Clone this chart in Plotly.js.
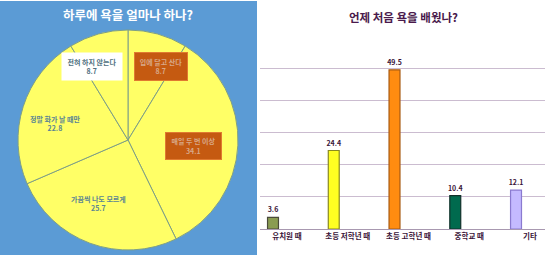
<!DOCTYPE html>
<html><head><meta charset="utf-8">
<script src="https://cdn.plot.ly/plotly-3.0.1.min.js"></script>
<style>html,body{margin:0;padding:0;background:#fff}#c{width:548px;height:259px}</style>
</head><body><div id="c"></div>
<script>
// Left: 하루에 욕을 얼마나 하나?
const pieLabels = ["입에 달고 산다", "매일 두 번 이상", "가끔씩 나도 모르게", "정말 화가 날 때만", "전혀 하지 않는다"];
const pieValues = [8.7, 34.1, 25.7, 22.8, 8.7];
// Right: 언제 처음 욕을 배웠나?
const barCats = ["유치원 때", "초등 저학년 때", "초등 고학년 때", "중학교 때", "기타"];
const barValues = [3.6, 24.4, 49.5, 10.4, 12.1];
const barColors = ["#8a9c52", "#ffff22", "#ff8c10", "#006a4e", "#c4baff"];
const barLines = ["#4a4a3a", "#8a8a20", "#a85a10", "#10302a", "#8a7ad0"];

const W = 548, H = 259;
const px = x => x / W, py = y => 1 - y / H;
const F = "Noto Sans CJK KR";

const pie = {
  type: "pie", labels: pieLabels, values: pieValues, sort: false,
  direction: "clockwise", rotation: 0, textinfo: "none", hoverinfo: "label+value",
  marker: {colors: pieValues.map(() => "#ffff66"), line: {color: "#7f9f86", width: 1}},
  domain: {x: [px(18), px(238)], y: [py(250), py(30)]}, showlegend: false
};
const bar = {
  type: "bar", x: barCats, y: barValues, width: 0.18, offset: -0.32,
  marker: {color: barColors, line: {color: barLines, width: 1.2}},
  text: barValues.map(v => "<b>" + v.toFixed(1) + "</b>"), textposition: "outside", cliponaxis: false,
  constraintext: "none",
  textfont: {family: F, size: 7, color: "#3a1438"}, xaxis: "x", yaxis: "y", showlegend: false
};

function lbl(x, y, t, opt) {
  return Object.assign({xref: "paper", yref: "paper", x: px(x), y: py(y), xanchor: "center", yanchor: "middle",
    showarrow: false, text: t, font: {family: F, size: 7, color: "#5a8494"}, align: "center"}, opt || {});
}
const annotations = [
  lbl(128, 15, "<b>하루에 욕을 얼마나 하나?</b>", {font: {family: F, size: 12.5, color: "#ffffff"}}),
  lbl(403, 17, "<b>언제 처음 욕을 배웠나?</b>", {font: {family: F, size: 11.5, color: "#4a1a4c"}}),
  lbl(92, 67, "<b>" + pieLabels[4] + "<br>" + pieValues[4] + "</b>", {bgcolor: "#ffffff", width: 58, height: 25, borderpad: 1, font: {family: F, size: 7, color: "#4e6f80"}}),
  lbl(161, 67, "<b>" + pieLabels[0] + "<br>" + pieValues[0] + "</b>", {bgcolor: "#c55a11", bordercolor: "#e07a30", borderwidth: 1, width: 50, height: 25, borderpad: 1, font: {family: F, size: 7, color: "#d8a888"}}),
  lbl(193, 146, "<b>" + pieLabels[1] + "<br>" + pieValues[1] + "</b>", {bgcolor: "#c55a11", bordercolor: "#e07a30", borderwidth: 1, width: 53, height: 24, borderpad: 1, font: {family: F, size: 7, color: "#d8a888"}}),
  lbl(98, 203, "<b>" + pieLabels[2] + "<br>" + pieValues[2] + "</b>"),
  lbl(55, 124, "<b>" + pieLabels[3] + "<br>" + pieValues[3] + "</b>")
];

const layout = {
  width: W, height: H, margin: {l: 0, r: 0, t: 0, b: 0}, paper_bgcolor: "#ffffff", plot_bgcolor: "rgba(0,0,0,0)",
  font: {family: F},
  shapes: [
    {type: "rect", xref: "paper", yref: "paper", x0: 0, x1: px(257), y0: py(255), y1: py(1), fillcolor: "#5b9bd5", line: {width: 0}, layer: "below"}
  ],
  xaxis: {domain: [px(260), px(545)], range: [-0.444, 4.247], type: "category", showgrid: false, zeroline: false,
    showline: true, linecolor: "#a898b0", linewidth: 1, ticks: "", fixedrange: true,
    tickprefix: "<b>", ticksuffix: "</b>",
    tickfont: {family: F, size: 7.5, color: "#3a1438"}},
  yaxis: {domain: [py(229), py(36)], range: [0, 60], dtick: 10, showticklabels: false, showgrid: true,
    gridcolor: "#cbbcd0", gridwidth: 1, zeroline: false, fixedrange: true},
  annotations: annotations
};
Plotly.newPlot("c", [pie, bar], layout, {displayModeBar: false, staticPlot: true});
</script></body></html>
